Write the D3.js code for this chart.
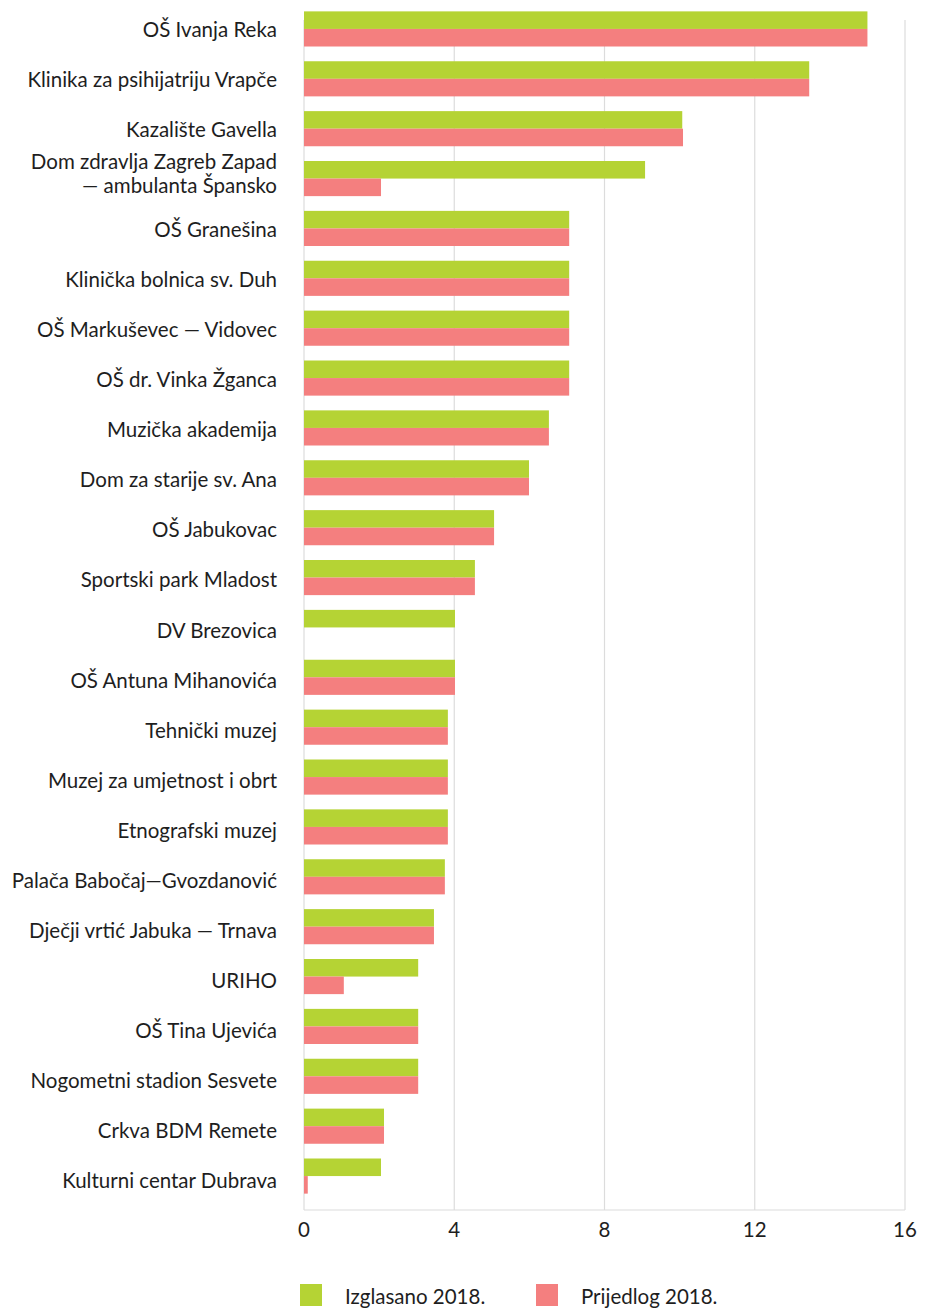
<!DOCTYPE html>
<html>
<head>
<meta charset="utf-8">
<script src="https://cdn.jsdelivr.net/npm/d3@7"></script>
<style>
  body { margin: 0; background: #fff; }
  text { font-family: Lato, "Open Sans", sans-serif; fill: #1e1e1e; }
</style>
</head>
<body>
<script>
var categories = [
  "OŠ Ivanja Reka", "Klinika za psihijatriju Vrapče", "Kazalište Gavella",
  "Dom zdravlja Zagreb Zapad\n— ambulanta Špansko", "OŠ Granešina",
  "Klinička bolnica sv. Duh", "OŠ Markuševec — Vidovec", "OŠ dr. Vinka Žganca",
  "Muzička akademija", "Dom za starije sv. Ana", "OŠ Jabukovac",
  "Sportski park Mladost", "DV Brezovica", "OŠ Antuna Mihanovića",
  "Tehnički muzej", "Muzej za umjetnost i obrt", "Etnografski muzej",
  "Palača Babočaj—Gvozdanović", "Dječji vrtić Jabuka — Trnava", "URIHO",
  "OŠ Tina Ujevića", "Nogometni stadion Sesvete", "Crkva BDM Remete",
  "Kulturni centar Dubrava"
];
var izglasano = [15, 13.45, 10.07, 9.08, 7.06, 7.06, 7.06, 7.06, 6.52, 5.99, 5.06, 4.55,
  4.02, 4.02, 3.83, 3.83, 3.83, 3.75, 3.46, 3.04, 3.04, 3.04, 2.13, 2.05];
var prijedlog = [15, 13.45, 10.09, 2.05, 7.06, 7.06, 7.06, 7.06, 6.52, 5.99, 5.06, 4.55,
  0, 4.02, 3.83, 3.83, 3.83, 3.75, 3.46, 1.06, 3.04, 3.04, 2.13, 0.1];
var seriesNames = ["Izglasano 2018.", "Prijedlog 2018."];
var ticks = [0, 4, 8, 12, 16];

var colors = ["#b5d334", "#f47f7f"];
var W = 925, H = 1313;

var svg = d3.select("body").append("svg")
    .attr("width", W)
    .attr("height", H);

var x = d3.scaleLinear().domain([0, 16]).range([304, 905]);
var y = d3.scaleBand().domain(categories).range([4, 1201]).paddingInner(0).paddingOuter(0);
// labels sit on a slightly looser grid than the bars
var yl = d3.scaleBand().domain(categories).range([12, 1213]);
var sub = d3.scaleBand().domain([0, 1]).range([0, y.bandwidth()]).paddingOuter(0.42).paddingInner(0);

// grid
svg.append("g").selectAll("line")
    .data(ticks)
    .join("line")
    .attr("x1", d => x(d)).attr("x2", d => x(d))
    .attr("y1", 20).attr("y2", 1210)
    .attr("stroke", "#dcdcdc")
    .attr("stroke-width", 1.2);

svg.append("line")
    .attr("x1", x(0)).attr("x2", x(16))
    .attr("y1", 1210).attr("y2", 1210)
    .attr("stroke", "#dcdcdc")
    .attr("stroke-width", 1.2);

// bars
var g = svg.append("g").selectAll("g")
    .data(categories)
    .join("g")
    .attr("transform", d => "translate(0," + y(d) + ")");

g.append("rect")
    .attr("x", x(0))
    .attr("y", sub(0))
    .attr("width", (d, i) => x(izglasano[i]) - x(0))
    .attr("height", sub.bandwidth())
    .attr("fill", colors[0]);

g.append("rect")
    .attr("x", x(0))
    .attr("y", sub(1))
    .attr("width", (d, i) => x(prijedlog[i]) - x(0))
    .attr("height", sub.bandwidth())
    .attr("fill", colors[1]);

// category labels
var lab = svg.append("g").selectAll("text")
    .data(categories)
    .join("text")
    .attr("text-anchor", "end")
    .attr("font-size", 20.5)
    .attr("x", 277);

lab.each(function(d) {
    var lines = d.split("\n");
    var off = lines.length > 1 ? -6 : 0;
    var t = d3.select(this);
    lines.forEach(function(l, k) {
        t.append("tspan")
            .attr("x", 277)
            .attr("y", yl(d) + yl.bandwidth() / 2 + off + (k - (lines.length - 1) / 2) * 24)
            .text(l);
    });
});

// x tick labels
svg.append("g").selectAll("text")
    .data(ticks)
    .join("text")
    .attr("x", d => x(d))
    .attr("y", 1237)
    .attr("text-anchor", "middle")
    .attr("font-size", 20.5)
    .text(d => d);

// legend
var leg = svg.append("g").selectAll("g")
    .data(seriesNames)
    .join("g")
    .attr("transform", (d, i) => "translate(" + (300 + i * 236) + ",1284)");

leg.append("rect")
    .attr("width", 22).attr("height", 22)
    .attr("fill", (d, i) => colors[i]);

leg.append("text")
    .attr("x", 45).attr("y", 20)
    .attr("font-size", 20.5)
    .text(d => d);
</script>
</body>
</html>
